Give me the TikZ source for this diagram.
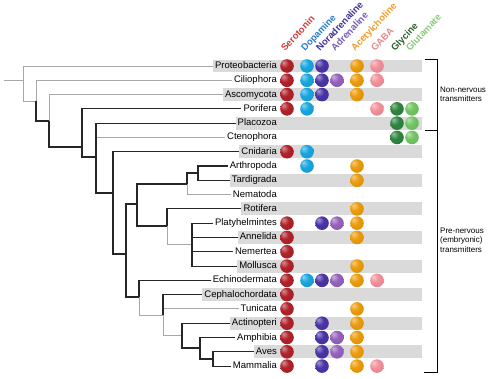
\documentclass[tikz,border=0pt]{standalone}
\usepackage{fontspec}
\setmainfont{Liberation Sans}
\usetikzlibrary{backgrounds}

% transmitter colours
\definecolor{ser}{HTML}{B0222A}
\definecolor{dop}{HTML}{18A6E0}
\definecolor{nor}{HTML}{4A34A6}
\definecolor{adr}{HTML}{9462BC}
\definecolor{ach}{HTML}{EC9C0C}
\definecolor{gaba}{HTML}{F4909A}
\definecolor{gly}{HTML}{2F8540}
\definecolor{glu}{HTML}{72C663}
% header text colours
\definecolor{serT}{HTML}{D33B3B}
\definecolor{dopT}{HTML}{2B7CC9}
\definecolor{norT}{HTML}{3F3398}
\definecolor{adrT}{HTML}{7A5BB5}
\definecolor{achT}{HTML}{F09B2A}
\definecolor{gabaT}{HTML}{E8878F}
\definecolor{glyT}{HTML}{2E5E2E}
\definecolor{gluT}{HTML}{8CC87B}
\definecolor{bandgray}{HTML}{DADADA}
\definecolor{treegray}{HTML}{A8A8A8}
% glossy dot shading, coloured by dotc
\colorlet{dotc}{red}
\pgfdeclareradialshading[dotc]{dotball}{\pgfpoint{-14bp}{14bp}}{%
  color(0bp)=(dotc!50!white);color(16bp)=(dotc);color(38bp)=(dotc!90!black);
  color(50bp)=(dotc!75!black)}

\begin{document}
\begin{tikzpicture}[x=1pt,y=-1pt,
  leaf/.style={anchor=east,inner xsep=2pt,inner ysep=0pt,minimum height=12.5pt,
    text height=7pt,text depth=2pt,font=\fontsize{9.5}{11}\selectfont},
  blk/.style={draw=black!85,line width=1.1pt},
  gry/.style={draw=treegray,line width=0.9pt},
  hdr/.style={rotate=47,anchor=base west,inner sep=0pt,font=\bfseries\fontsize{9.5}{10}\selectfont},
  note/.style={anchor=west,align=left,inner sep=0pt,font=\fontsize{8}{9.5}\selectfont},
  brk/.style={draw=black,line width=0.8pt}]
\useasboundingbox (0,0) rectangle (500,378);

%taxa, one row each
\foreach \n/\t [count=\i from 0] in {proteo/Proteobacteria,cilio/Ciliophora,
  ascomy/Ascomycota,pori/Porifera,placo/Placozoa,cteno/Ctenophora,cnid/Cnidaria,
  arthro/Arthropoda,tardi/Tardigrada,nema/Nematoda,roti/Rotifera,
  platy/Platyhelmintes,anne/Annelida,nemer/Nemertea,moll/Mollusca,
  echino/Echinodermata,cephalo/Cephalochordata,tuni/Tunicata,actino/Actinopteri,
  amphi/Amphibia,aves/Aves,mamma/Mammalia}
  \node[leaf] (\n) at (279,{66+14.29*\i}) {\t};

%grey bands behind every other row
\coordinate (bandend) at (422,0);
\begin{scope}[on background layer]
\foreach \n in {proteo,ascomy,placo,cnid,tardi,roti,anne,moll,cephalo,actino,aves}
  \fill[bandgray] (\n.north west) rectangle (\n.south -| bandend);
\end{scope}

%inner nodes of the tree
\coordinate (root) at (4,80);
\coordinate (cellular) at (23,80);
\coordinate (eukarya) at (36,101);
\coordinate (opist) at (49,121);
\coordinate (metazoa) at (82,147);
\coordinate (eumeta) at (96,157);
\coordinate (parahox) at (113,193);
\coordinate (bilateria) at (126,254);
\coordinate (proto) at (137,204);
\coordinate (ecdy) at (187,184);
\coordinate (panarthro) at (198,173);
\coordinate (spiralia) at (167,226);
\coordinate (lophotroch) at (192,244);
\coordinate (deutero) at (139,297);
\coordinate (chordata) at (163,315);
\coordinate (vertebrata) at (182,335);
\coordinate (tetra) at (200,348);
\coordinate (amniota) at (213,359);

%grey branches
\draw[gry] (root) -- (cellular);
\draw[gry] (cellular) |- (proteo.west);
\draw[gry] (cellular) |- (eukarya);
\draw[gry] (eukarya) |- (cilio.west);
\draw[gry] (opist) |- (ascomy.west);
\draw[gry] (eumeta) |- (cteno.west);
\draw[gry] (ecdy) |- (nema.west);
\draw[gry] (spiralia) |- (lophotroch);
\draw[gry] (deutero) |- (chordata);
\draw[gry] (chordata) |- (tuni.west);
\draw[gry] (chordata) |- (vertebrata);
%black branches
\draw[blk] (eukarya) |- (opist);
\draw[blk] (opist) |- (metazoa);
\draw[blk] (metazoa) |- (pori.west);
\draw[blk] (metazoa) |- (eumeta);
\draw[blk] (eumeta) |- (placo.west);
\draw[blk] (eumeta) |- (parahox);
\draw[blk] (parahox) |- (cnid.west);
\draw[blk] (parahox) |- (bilateria);
\draw[blk] (bilateria) |- (proto);
\draw[blk] (bilateria) |- (deutero);
\draw[blk] (proto) |- (ecdy);
\draw[blk] (proto) |- (spiralia);
\draw[blk] (ecdy) |- (panarthro);
\draw[blk] (panarthro) |- (arthro.west);
\draw[blk] (panarthro) |- (tardi.west);
\draw[blk] (spiralia) |- (roti.west);
\foreach \n in {platy,anne,nemer,moll}
  \draw[blk] (lophotroch) |- (\n.west);
\draw[blk] (deutero) |- (echino.west);
\draw[blk] (chordata) |- (cephalo.west);
\draw[blk] (vertebrata) |- (actino.west);
\draw[blk] (vertebrata) |- (tetra);
\draw[blk] (tetra) |- (amphi.west);
\draw[blk] (tetra) |- (amniota);
\draw[blk] (amniota) |- (aves.west);
\draw[blk] (amniota) |- (mamma.west);

%columns and their headers
\foreach \c/\x/\t in {ser/287/Serotonin,dop/307/Dopamine,nor/322/Noradrenaline,
  adr/337/Adrenaline,ach/357/Acetylcholine,gaba/377/GABA,gly/397/Glycine,
  glu/412/Glutamate}{
  \coordinate (col-\c) at (\x,0);
  \node[hdr,text=\c T] (h-\c) at (\x-2,52) {\t};
}

%transmitters found in each taxon
\foreach \n/\cs in {proteo/{ser,dop,nor,ach,gaba},cilio/{ser,dop,nor,adr,ach,gaba},
  ascomy/{ser,dop,nor,ach},pori/{ser,dop,gaba,gly,glu},placo/{gly,glu},
  cteno/{gly,glu},cnid/{ser,dop},arthro/{dop,ach},tardi/{ach},roti/{ach},
  platy/{ser,nor,adr,ach},anne/{ser,ach},nemer/{ser},moll/{ser,ach},
  echino/{ser,dop,nor,adr,ach,gaba},cephalo/{ser},tuni/{ser,ach},
  actino/{ser,nor,ach},amphi/{ser,nor,adr,ach},aves/{ser,nor,adr,ach},
  mamma/{ser,nor,ach,gaba}}
  \foreach \c in \cs {
    \colorlet{dotc}{\c}
    \shade[shading=dotball] (col-\c |- \n) circle [radius=6.8];
  }

%brackets
\draw[brk] (425,59) -| (437,130) -- (425,130);
\draw[brk] (437,130) |- (424,372);
\node[note] (nonnerv) at (440,94.5) {Non-nervous\\transmitters};
\node[note] (prenerv) at (440,240) {Pre-nervous\\(embryonic)\\transmitters};
\end{tikzpicture}
\end{document}
